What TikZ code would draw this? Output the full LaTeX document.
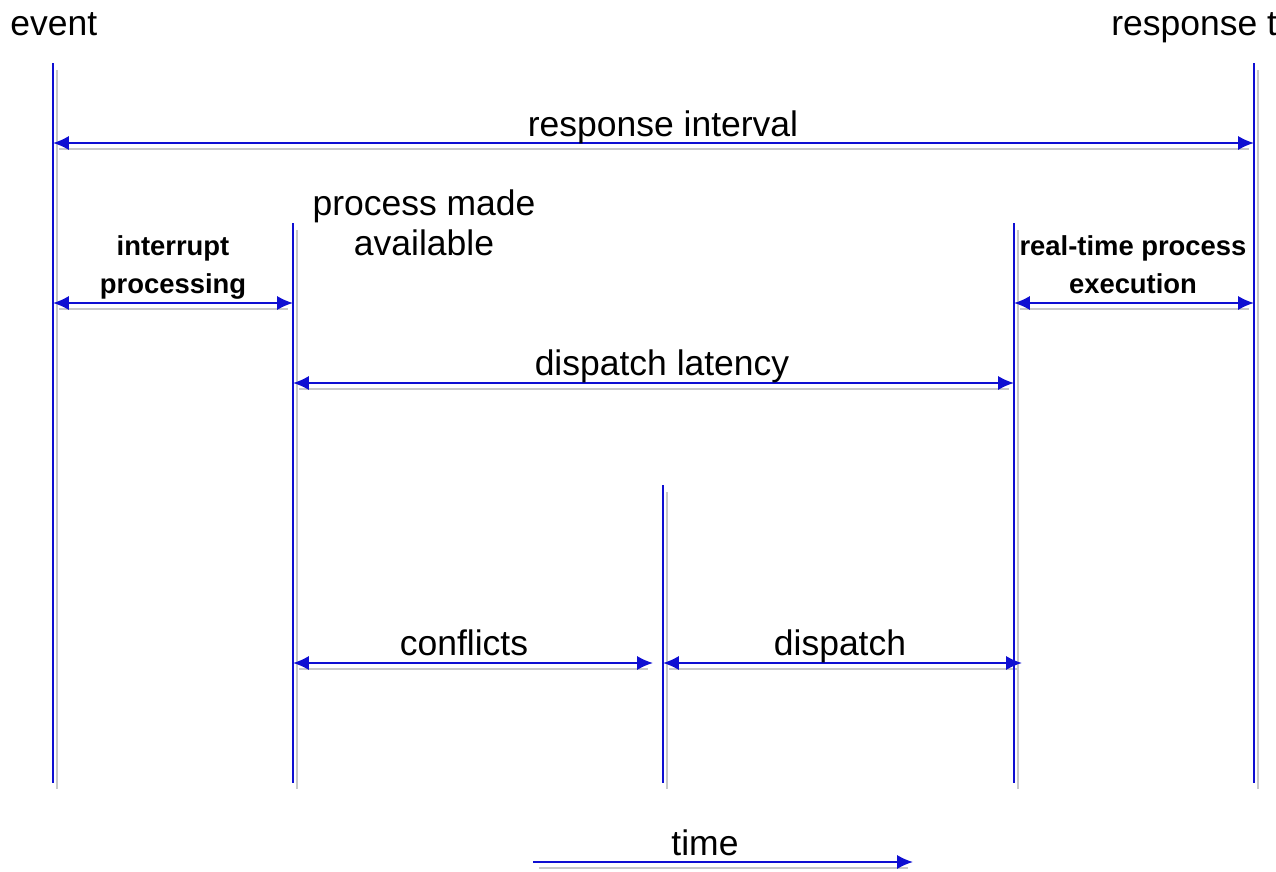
\documentclass[tikz,border=0pt]{standalone}
\usepackage{fontspec}
\setmainfont{Liberation Sans}
\usetikzlibrary{arrows.meta}
\definecolor{lineblue}{RGB}{15,15,210}
\definecolor{shadowgray}{RGB}{200,200,200}
\begin{document}
\begin{tikzpicture}[x=0.02cm,y=-0.02cm,
  bar/.style={draw=lineblue,line width=1.1pt},
  shadowline/.style={draw=shadowgray,line width=1.1pt},
  span/.style={draw=lineblue,line width=1.1pt,{Latex[length=9pt,width=8pt]}-{Latex[length=9pt,width=8pt]}},
  onearrow/.style={draw=lineblue,line width=1.1pt,-{Latex[length=9pt,width=8pt]}},
  lbl/.style={font=\fontsize{20.2}{24}\selectfont,inner sep=0pt,anchor=base},
  small/.style={font=\fontsize{15.6}{19}\selectfont\bfseries,inner sep=0pt,anchor=base}]
\clip (0,0) rectangle (1276,872);
\fill[white] (0,0) rectangle (1276,872);
% vertical line end points
\coordinate (evT) at (53,63);   \coordinate (evB) at (53,783);
\coordinate (pmT) at (293,223); \coordinate (pmB) at (293,783);
\coordinate (mdT) at (663,485); \coordinate (mdB) at (663,783);
\coordinate (rtT) at (1014,223);\coordinate (rtB) at (1014,783);
\coordinate (rsT) at (1254,63); \coordinate (rsB) at (1254,783);
% horizontal arrow end points
\coordinate (riL) at (53,143);  \coordinate (riR) at (1254,143);
\coordinate (ipL) at (53,303);  \coordinate (ipR) at (293,303);
\coordinate (reL) at (1014,303);\coordinate (reR) at (1254,303);
\coordinate (dlL) at (293,383); \coordinate (dlR) at (1014,383);
\coordinate (cfL) at (293,663); \coordinate (cfR) at (653,663);
\coordinate (dpL) at (663,663); \coordinate (dpR) at (1022,663);
\coordinate (tmL) at (533,862); \coordinate (tmR) at (913,862);
% shadows
\foreach \a/\b in {evT/evB,pmT/pmB,mdT/mdB,rtT/rtB,rsT/rsB}
  \draw[shadowline] ([shift={(4,7)}]\a) -- ([shift={(4,6)}]\b);
\foreach \a/\b in {riL/riR,ipL/ipR,reL/reR,dlL/dlR,cfL/cfR,dpL/dpR,tmL/tmR}
  \draw[shadowline] ([shift={(6,6)}]\a) -- ([shift={(-5,6)}]\b);
% blue lines
\foreach \a/\b in {evT/evB,pmT/pmB,mdT/mdB,rtT/rtB,rsT/rsB}
  \draw[bar] (\a) -- (\b);
\foreach \a/\b in {riL/riR,ipL/ipR,reL/reR,dlL/dlR,cfL/cfR,dpL/dpR}
  \draw[span] (\a) -- (\b);
\draw[onearrow] (tmL) -- (tmR);
% labels
\node[lbl,anchor=base west] (event) at (10,35) {event};
\node[lbl,anchor=base west] (resptime) at (1111,35) {response time};
\node[lbl] (rinterval) at (663,136) {response interval};
\node[lbl] (pm1) at (424,215) {process made};
\node[lbl] (pm2) at (424,255) {available};
\node[small] (ip1) at (173,255) {interrupt};
\node[small] (ip2) at (173,293) {processing};
\node[small] (re1) at (1133,255) {real-time process};
\node[small] (re2) at (1133,293) {execution};
\node[lbl] (dlat) at (662,375) {dispatch latency};
\node[lbl] (conf) at (464,655) {conflicts};
\node[lbl] (disp) at (840,655) {dispatch};
\node[lbl] (time) at (705,855) {time};
\end{tikzpicture}
\end{document}
